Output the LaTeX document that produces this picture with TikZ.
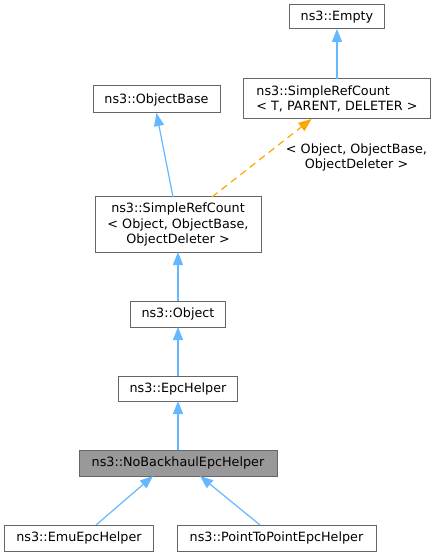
\documentclass[tikz,border=0pt]{standalone}
\usepackage{fontspec}
\setmainfont{DejaVu Sans}
\usetikzlibrary{arrows.meta}
\definecolor{boxline}{HTML}{666666}
\definecolor{boxfill}{HTML}{999999}
\definecolor{edgeblue}{HTML}{63B8FF}
\definecolor{edgeorange}{HTML}{FFA500}
\begin{document}
\begin{tikzpicture}[x=1bp,y=-1bp,
  cls/.style={draw=boxline, line width=1bp, fill=white, inner sep=0pt, outer sep=0pt,
    font=\fontsize{12.8}{15.2}\selectfont, text=black},
  inh/.style={draw=edgeblue, line width=1.2bp, -{Triangle[length=13bp,width=10bp,fill=edgeblue]}},
  tmpl/.style={draw=edgeorange, line width=1.2bp, dash pattern=on 7bp off 5bp,
    -{Triangle[length=13bp,width=10bp,fill=edgeorange]}},
  lbl/.style={font=\fontsize{12.8}{15.2}\selectfont, align=center, inner sep=0pt}]
\useasboundingbox (0,0) rectangle (437,556);
\node[cls, minimum width=95bp, minimum height=24bp] (empty) at (337,17) {ns3::Empty};
\node[cls, minimum width=187bp, minimum height=40bp, align=left] (srcT) at (337,99) {ns3::SimpleRefCount\\< T, PARENT, DELETER >};
\node[cls, minimum width=127bp, minimum height=27bp] (objbase) at (156.5,99.5) {ns3::ObjectBase};
\node[cls, minimum width=166bp, minimum height=55bp, align=center] (srcO) at (178,224.5) {ns3::SimpleRefCount\\< Object, ObjectBase,\\ObjectDeleter >};
\node[cls, minimum width=95bp, minimum height=26bp] (object) at (178,314) {ns3::Object};
\node[cls, minimum width=119bp, minimum height=25bp] (epc) at (178,388.5) {ns3::EpcHelper};
\node[cls, fill=boxfill, minimum width=198bp, minimum height=26bp] (nobh) at (178,463) {ns3::NoBackhaulEpcHelper};
\node[cls, minimum width=148bp, minimum height=26bp] (emu) at (79,538) {ns3::EmuEpcHelper};
\node[cls, minimum width=199bp, minimum height=26bp] (p2p) at (276.5,538) {ns3::PointToPointEpcHelper};
\node[lbl] (tlabel) at (356.5,157.5) {< Object, ObjectBase,\\ObjectDeleter >};
\draw[inh] (srcT.north) -- (empty.south);
\draw[inh] ([xshift=-5bp]srcO.north) -- (objbase.south);
\draw[tmpl] ([xshift=34bp]srcO.north) -- ([xshift=-25.5bp]srcT.south);
\draw[inh] (object.north) -- (srcO.south);
\draw[inh] (epc.north) -- (object.south);
\draw[inh] (nobh.north) -- (epc.south);
\draw[inh] ([xshift=17bp]emu.north) -- ([xshift=-25bp]nobh.south);
\draw[inh] ([xshift=-16.5bp]p2p.north) -- ([xshift=22bp]nobh.south);
\end{tikzpicture}
\end{document}
